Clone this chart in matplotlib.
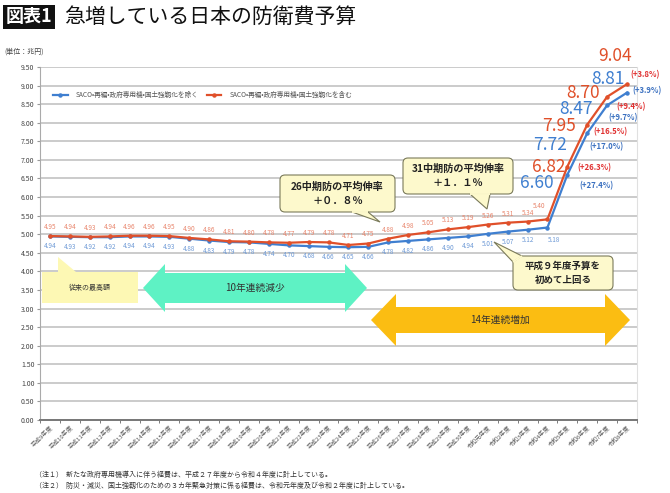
import matplotlib
matplotlib.use("Agg")
import matplotlib.pyplot as plt
from matplotlib.patches import Polygon, FancyBboxPatch

plt.rcParams['font.family'] = ['Noto Sans CJK JP', 'DejaVu Sans']

# ---------------- data ----------------
years = ['平成9年度', '平成10年度', '平成11年度', '平成12年度', '平成13年度', '平成14年度',
         '平成15年度', '平成16年度', '平成17年度', '平成18年度', '平成19年度', '平成20年度',
         '平成21年度', '平成22年度', '平成23年度', '平成24年度', '平成25年度', '平成26年度',
         '平成27年度', '平成28年度', '平成29年度', '平成30年度', '令和元年度', '令和2年度',
         '令和3年度', '令和4年度', '令和5年度', '令和6年度', '令和7年度', '令和8年度']
excl = [4.94, 4.93, 4.92, 4.92, 4.94, 4.94, 4.93, 4.88, 4.83, 4.79,
        4.78, 4.74, 4.70, 4.68, 4.66, 4.65, 4.66, 4.78, 4.82, 4.86,
        4.90, 4.94, 5.01, 5.07, 5.12, 5.18, 6.60, 7.72, 8.47, 8.81]
incl = [4.95, 4.94, 4.93, 4.94, 4.96, 4.96, 4.95, 4.90, 4.86, 4.81,
        4.80, 4.78, 4.77, 4.79, 4.78, 4.71, 4.75, 4.88, 4.98, 5.05,
        5.13, 5.19, 5.26, 5.31, 5.34, 5.40, 6.82, 7.95, 8.70, 9.04]
incl_pct = [26.3, 16.5, 9.4, 3.8]
excl_pct = [27.4, 17.0, 9.7, 3.9]
series_names = ['SACO•再編•政府専用機•国土強靱化を除く', 'SACO•再編•政府専用機•国土強靱化を含む']
yticks = [i * 0.5 for i in range(20)]

BLUE = '#3f7fd0'
RED = '#e0502a'
BLUE_L = '#6e9ad6'
RED_L = '#e8856c'

fig = plt.figure(figsize=(6.7, 4.93), dpi=100)
W, H = 670, 493
ax = fig.add_axes([40 / W, 1 - 420 / H, (637 - 40) / W, (420 - 67) / H])

x = list(range(len(years)))
ax.plot(x, excl, color=BLUE, lw=1.6, marker='o', ms=2.2, label=series_names[0], zorder=5)
ax.plot(x, incl, color=RED, lw=1.6, marker='o', ms=2.2, label=series_names[1], zorder=5)

ax.set_xlim(-0.5, len(years) - 0.5)
ax.set_ylim(0, 9.5)
ax.set_yticks(yticks)
ax.set_yticklabels([f'{v:.2f}' for v in yticks], fontsize=5, color='#444')
ax.set_xticks(x)
ax.set_xticklabels(years, rotation=45, ha='right', rotation_mode='anchor', fontsize=4.3, color='#555')
ax.set_xticks([i - 0.5 for i in range(len(years) + 1)], minor=True)
ax.tick_params(axis='x', which='major', length=0, pad=3)
ax.tick_params(axis='x', which='minor', length=2.5, color='#666')
ax.tick_params(axis='y', length=2, color='#999', pad=2)
ax.grid(axis='y', color='#bdbdbd', lw=1.1)
ax.set_axisbelow(True)
ax.spines['top'].set_visible(False)
ax.spines['right'].set_color('#e0e0e0')
ax.spines['left'].set_color('#aaaaaa')
ax.spines['bottom'].set_color('#777777')
ax.spines['bottom'].set_linewidth(1.4)

# small value labels
n_small = len(years) - 4
for i in range(n_small):
    dx_r, dy_r = 0, 9
    dx_b, dy_b = 0, -10
    if i == n_small - 1:
        dx_r, dy_r = -8, 13
        dx_b, dy_b = 7, -12
    ax.annotate(f'{incl[i]:.2f}', (x[i], incl[i]), xytext=(dx_r, dy_r), textcoords='offset pixels',
                ha='center', va='center', fontsize=4.6, color=RED_L)
    ax.annotate(f'{excl[i]:.2f}', (x[i], excl[i]), xytext=(dx_b, dy_b), textcoords='offset pixels',
                ha='center', va='center', fontsize=4.6, color=BLUE_L)

# large value labels
red_off = [(-2, 0, 'right'), (-11, -1, 'right'), (-7, 4, 'right'), (-12, 28, 'center')]
blue_off = [(-14, -8, 'right'), (-20, -12, 'right'), (-14, -4, 'right'), (-2, 14, 'right')]
red_pct_off = [(10, -1), (6, -7), (9, -10), (3, 9)]
blue_pct_off = [(12, -11), (2, -14), (1, -12), (5, 2)]
for k in range(4):
    i = n_small + k
    dx, dy, ha = red_off[k]
    ax.annotate(f'{incl[i]:.2f}', (x[i], incl[i]), xytext=(dx, dy), textcoords='offset pixels',
                ha=ha, va='center', fontsize=12.5, color=RED, annotation_clip=False)
    dx, dy, ha = blue_off[k]
    ax.annotate(f'{excl[i]:.2f}', (x[i], excl[i]), xytext=(dx, dy), textcoords='offset pixels',
                ha=ha, va='center', fontsize=12.5, color=BLUE, annotation_clip=False)
    dx, dy = red_pct_off[k]
    ax.annotate(f'(+{incl_pct[k]:.1f}%)', (x[i], incl[i]), xytext=(dx, dy), textcoords='offset pixels',
                ha='left', va='center', fontsize=5.6, fontweight='bold', color='#e03030',
                annotation_clip=False)
    dx, dy = blue_pct_off[k]
    ax.annotate(f'(+{excl_pct[k]:.1f}%)', (x[i], excl[i]), xytext=(dx, dy), textcoords='offset pixels',
                ha='left', va='center', fontsize=5.6, fontweight='bold', color='#3a70c0',
                annotation_clip=False)

leg = ax.legend(loc='center left', bbox_to_anchor=(0.012, 0.92), ncol=2, frameon=False,
                fontsize=4.8, handlelength=2.2, columnspacing=1.2, handletextpad=1.2,
                labelcolor='#555')

# ---------------- overlay (pixel coordinates) ----------------
ov = fig.add_axes([0, 0, 1, 1])
ov.set_xlim(0, W)
ov.set_ylim(H, 0)
ov.axis('off')


def dbl_arrow(x0, x1, yc, shaft, head, hlen, color):
    pts = [(x0, yc), (x0 + hlen, yc - head), (x0 + hlen, yc - shaft), (x1 - hlen, yc - shaft),
           (x1 - hlen, yc - head), (x1, yc), (x1 - hlen, yc + head), (x1 - hlen, yc + shaft),
           (x0 + hlen, yc + shaft), (x0 + hlen, yc + head)]
    ov.add_patch(Polygon(pts, closed=True, fc=color, ec='none'))


dbl_arrow(143, 367, 288, 15, 24, 22, '#5ef2c4')
ov.text(255, 288, '10年連続減少', ha='center', va='center', fontsize=7, color='#333')
dbl_arrow(371, 630, 320, 13, 26, 25, '#fbbd12')
ov.text(500, 320, '14年連続増加', ha='center', va='center', fontsize=7, color='#333')

# 従来の最高額 callout (no border)
ov.add_patch(Polygon([(42, 272), (58, 272), (58, 257), (76, 272), (138, 272), (138, 303), (42, 303)],
                     closed=True, fc='#fdf8b4', ec='none'))
ov.text(90, 288, '従来の最高額', ha='center', va='center', fontsize=5, color='#333')


def callout(x0, y0, x1, y1, tail, text, fs):
    fc = '#fdf9cc'
    ec = '#7a7a5a'
    ov.add_patch(FancyBboxPatch((x0, y0), x1 - x0, y1 - y0,
                                boxstyle='round,pad=0,rounding_size=5', fc=fc, ec=ec, lw=0.8, zorder=3))
    ov.add_patch(Polygon(tail, closed=True, fc=fc, ec=ec, lw=0.8, zorder=4))
    (ax_, ay_), _, (bx_, by_) = tail
    ov.plot([ax_, bx_], [ay_, by_], color=fc, lw=1.4, zorder=5, solid_capstyle='butt')
    ov.text((x0 + x1) / 2, (y0 + y1) / 2, text, ha='center', va='center', fontsize=fs,
            fontweight='bold', color='#222', linespacing=1.5, zorder=6)


callout(280, 175, 395, 212, [(352, 212), (380, 222), (368, 212)], '26中期防の平均伸率\n＋０．８％', 7.3)
callout(403, 158, 513, 194, [(470, 194), (487, 209), (490, 194)], '31中期防の平均伸率\n＋１．１％', 7.3)
callout(513, 256, 613, 290, [(513, 262), (494, 242), (522, 256)], '平成９年度予算を\n初めて上回る', 6.8)

# ---------------- titles and notes ----------------
fig.text(6 / W, 1 - 17 / H, '図表1', fontsize=13, fontweight='bold', color='white', va='center',
         ha='left', bbox=dict(boxstyle='square,pad=0.15', fc='#111', ec='none'))
fig.text(64 / W, 1 - 17 / H, '急増している日本の防衛費予算', fontsize=15, color='#111', va='center', ha='left')
fig.text(4 / W, 1 - 52 / H, '(単位：兆円)', fontsize=5, color='#444', va='center', ha='left')
fig.text(35 / W, 1 - 475 / H, '（注１）  新たな政府専用機導入に伴う経費は、平成２７年度から令和４年度に計上している。',
         fontsize=5.0, color='#333', va='center', ha='left')
fig.text(35 / W, 1 - 486 / H,
         '（注２）  防災・減災、国土強靱化のための３カ年緊急対策に係る経費は、令和元年度及び令和２年度に計上している。',
         fontsize=5.0, color='#333', va='center', ha='left')

fig.savefig('out.png', dpi=100)
